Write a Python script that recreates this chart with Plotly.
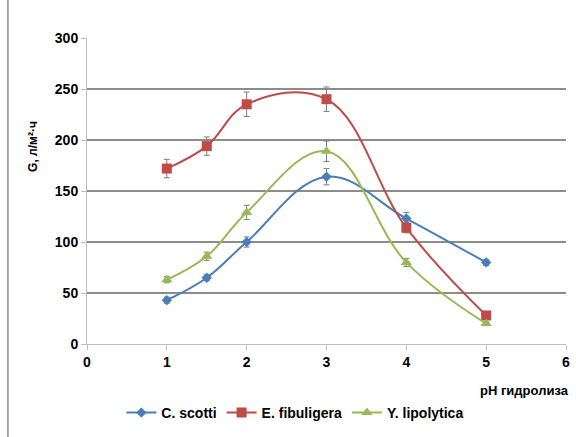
import plotly.graph_objects as go

ph_c = [1, 1.5, 2, 3, 4, 5]
c_scotti = [43, 65, 100, 164, 123, 80]
c_scotti_err = [3, 3, 5, 8, 6, 3]

ph_e = [1, 1.5, 2, 3, 4, 5]
e_fib = [172, 194, 235, 240, 114, 28]
e_fib_err = [9, 9, 12, 12, 5, 2]

ph_y = [1, 1.5, 2, 3, 4, 5]
y_lipo = [63, 86, 129, 189, 80, 20]
y_lipo_err = [3, 4, 7, 10, 4, 2]

x_ticks = [0, 1, 2, 3, 4, 5, 6]
y_ticks = [0, 50, 100, 150, 200, 250, 300]

FONT = "Liberation Sans"

def trace(x, y, err, name, color, symbol, size):
    return go.Scatter(
        x=x, y=y, name=name, mode="lines+markers",
        line=dict(color=color, width=2, shape="spline", smoothing=1.1),
        marker=dict(symbol=symbol, size=size, color=color),
        error_y=dict(type="data", array=err, visible=True, color="#7f7f7f", thickness=1, width=3),
    )

fig = go.Figure()
fig.add_trace(trace(ph_c, c_scotti, c_scotti_err, "C. scotti", "#4A7EBB", "diamond", 8))
fig.add_trace(trace(ph_e, e_fib, e_fib_err, "E. fibuligera", "#BE4B48", "square", 10))
fig.add_trace(trace(ph_y, y_lipo, y_lipo_err, "Y. lipolytica", "#98B954", "triangle-up", 10))

fig.update_layout(
    width=576, height=437,
    margin=dict(l=87, r=10, t=38, b=93, autoexpand=False),
    paper_bgcolor="white", plot_bgcolor="white",
    font=dict(family=FONT, size=13, color="black"),
    showlegend=True,
    legend=dict(orientation="h", x=0.435, xanchor="center", y=-0.2255, yanchor="middle",
                font=dict(family=FONT, size=14, color="black", weight="bold"), itemwidth=30),
    xaxis=dict(range=[0, 6], tickvals=x_ticks, showgrid=False, zeroline=False,
               showline=True, linecolor="#bfbfbf", linewidth=1,
               ticks="outside", ticklen=5, tickcolor="#bfbfbf",
               tickfont=dict(family=FONT, size=14, color="black", weight="bold")),
    yaxis=dict(range=[0, 300], tickvals=y_ticks, showgrid=True, gridcolor="#8c8c8c", gridwidth=2,
               zeroline=False, showline=True, linecolor="#bfbfbf", linewidth=1,
               ticks="outside", ticklen=5, tickcolor="#bfbfbf",
               tickfont=dict(family=FONT, size=14, color="black", weight="bold")),
    annotations=[
        dict(text="<b>pH гидролиза</b>", x=1.01, xref="paper", xanchor="right",
             y=-0.12, yref="paper", yanchor="top", showarrow=False,
             font=dict(family=FONT, size=13, color="black")),
        dict(text="<b>G, л/м²·ч</b>", x=-0.113, xref="paper", xanchor="center",
             y=0.647, yref="paper", yanchor="middle", showarrow=False, textangle=-90,
             font=dict(family=FONT, size=12, color="black")),
    ],
    shapes=[dict(type="line", xref="paper", yref="paper", x0=-0.165, x1=-0.165, y0=-0.32, y1=1.13,
                 line=dict(color="#555555", width=1))],
)

fig.write_html("out.html")
